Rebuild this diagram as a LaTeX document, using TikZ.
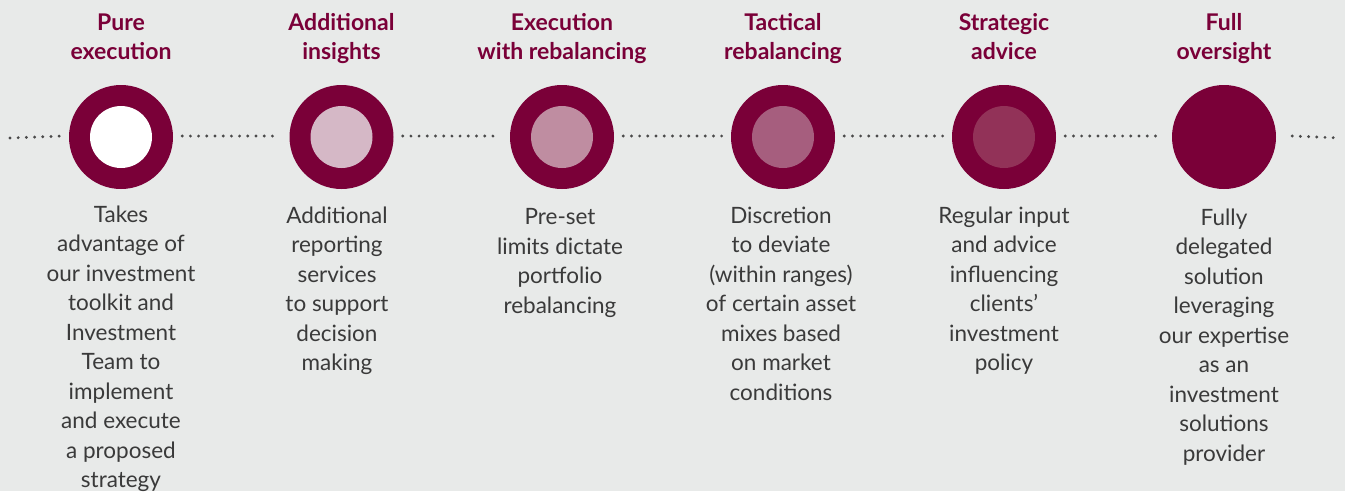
\documentclass[tikz,border=0pt]{standalone}
\usepackage{fontspec}
\setmainfont{Lato}
\definecolor{bg}{HTML}{E8EAE9}
\definecolor{maroon}{HTML}{7A0038}
\definecolor{txt}{HTML}{3A3A3A}
\definecolor{dotc}{HTML}{4A4A4A}
\definecolor{in1}{HTML}{FFFFFF}
\definecolor{in2}{HTML}{D5B8C6}
\definecolor{in3}{HTML}{BF8DA1}
\definecolor{in4}{HTML}{A65E7E}
\definecolor{in5}{HTML}{923258}
\definecolor{in6}{HTML}{7A0038}
\tikzset{
  outer/.style={circle, fill=maroon, minimum size=104pt, inner sep=0pt},
  inner/.style={circle, minimum size=62pt, inner sep=0pt},
  title/.style={text=maroon, font=\fontsize{23}{29}\selectfont\bfseries, align=center, anchor=north},
  body/.style={text=txt, font=\fontsize{22.5}{29.5}\selectfont, align=center, anchor=north},
  dots/.style={dotc, line width=3.2pt, line cap=round, dash pattern=on 0pt off 8.2pt}
}
\begin{document}
\begin{tikzpicture}[x=1pt,y=-1pt]
\fill[bg] (0,0) rectangle (1345,491);
\useasboundingbox (0,0) rectangle (1345,491);
\foreach \i/\x in {1/121,2/341.5,3/562,4/783,5/1004,6/1224}{
  \node[outer] (c\i) at (\x,137) {};
  \node[inner, fill=in\i] (d\i) at (\x,137) {};
}
\coordinate (L) at (10,138);
\coordinate (R) at (1340,138);
\draw[dots] (L) -- ([xshift=-6pt,yshift=1pt]c1.west);
\foreach \a/\b in {1/2,2/3,3/4,4/5,5/6}{
  \draw[dots] ([xshift=9pt,yshift=1pt]c\a.east) -- ([xshift=-9pt,yshift=1pt]c\b.west);
}
\draw[dots] ([xshift=16pt,yshift=1pt]c6.east) -- (R);

\node[title] (t1) at (121,10) {Pure\\execution};
\node[title] (t2) at (341.5,10) {Additional\\insights};
\node[title] (t3) at (562,10) {Execution\\with rebalancing};
\node[title] (t4) at (783,10) {Tactical\\rebalancing};
\node[title] (t5) at (1004,10) {Strategic\\advice};
\node[title] (t6) at (1224,10) {Full\\oversight};

\node[body] (b1) at (121,202) {Takes\\advantage of\\our investment\\toolkit and\\Investment\\Team to\\implement\\and execute\\a proposed\\strategy};
\node[body] (b2) at (337,203) {Additional\\reporting\\services\\to support\\decision\\making};
\node[body] (b3) at (560,205) {Pre-set\\limits dictate\\portfolio\\rebalancing};
\node[body] (b4) at (781,203) {Discretion\\to deviate\\(within ranges)\\of certain asset\\mixes based\\on market\\conditions};
\node[body] (b5) at (1004,203) {Regular input\\and advice\\influencing\\clients’\\investment\\policy};
\node[body] (b6) at (1224,205) {Fully\\delegated\\solution\\leveraging\\our expertise\\as an\\investment\\solutions\\provider};
\end{tikzpicture}
\end{document}
